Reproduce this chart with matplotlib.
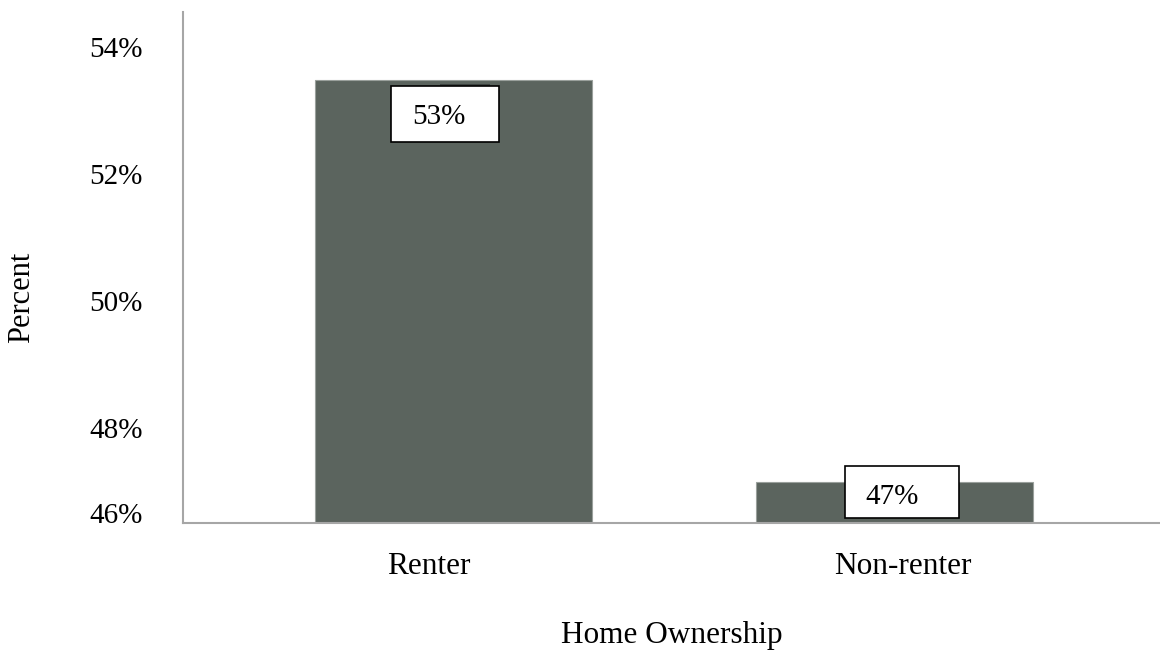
import matplotlib.pyplot as plt
from matplotlib.patches import Rectangle
from matplotlib.transforms import ScaledTranslation

plt.rcParams['font.family'] = ['Liberation Serif', 'DejaVu Serif']

categories = ['Renter', 'Non-renter']
percent = [53.48, 47.15]
tick_vals = [46.65, 48, 50, 52, 54]
tick_labels = ['46%', '48%', '50%', '52%', '54%']

bar_color = '#5b645e'
spine_color = '#a6a6a6'

fig = plt.figure(figsize=(11.6, 6.51), dpi=100)
ax = fig.add_axes([183 / 1160, 1 - 523 / 651, 1 - 183 / 1160, (523 - 12) / 651])

x = list(range(len(categories)))
ax.bar(x, percent, width=0.628, color=bar_color, edgecolor='#9aa09c', linewidth=0.8, zorder=2)

ax.set_xlim(-0.613, 1.602)
ax.set_ylim(46.5, 54.55)
ax.set_yticks(tick_vals)
ax.set_yticklabels(tick_labels, fontsize=21)
ax.set_xticks(x)
ax.set_xticklabels(categories, fontsize=22.5)
ax.tick_params(axis='y', length=0, pad=29)
ax.tick_params(axis='x', length=0, pad=21)

# category labels sit a little off the bar centres
for lbl, dx in zip(ax.get_xticklabels(), [-0.25, 0.08]):
    lbl.set_transform(lbl.get_transform() + ScaledTranslation(dx, 0, fig.dpi_scale_trans))

for side in ['top', 'right']:
    ax.spines[side].set_visible(False)
for side in ['left', 'bottom']:
    ax.spines[side].set_color(spine_color)
    ax.spines[side].set_linewidth(1.5)

ax.set_xlabel('Home Ownership', fontsize=22.5, labelpad=29)
fig.text(22 / 1160, 1 - 297 / 651, 'Percent', rotation=90, fontsize=22,
         ha='center', va='center')

# label boxes, offsets in inches from each bar's top-centre
box_offsets = [(-0.625, -0.62, 1.08, 0.56), (-0.495, -0.363, 1.14, 0.52)]
text_offsets = [(-0.145, -0.37), (-0.025, -0.153)]

for xi, val, box, toff in zip(x, percent, box_offsets, text_offsets):
    anchor = ScaledTranslation(xi, val, ax.transData)
    trans = fig.dpi_scale_trans + anchor
    ax.add_patch(Rectangle((box[0], box[1]), box[2], box[3], transform=trans,
                           facecolor='white', edgecolor='black', linewidth=1.2,
                           zorder=3, clip_on=False))
    ax.text(toff[0], toff[1], '{:.0f}%'.format(val), transform=trans,
            ha='center', va='center', fontsize=21, zorder=4)

# thin dark strip peeking above the first label box
strip_trans = fig.dpi_scale_trans + ScaledTranslation(x[0], percent[0], ax.transData)
ax.add_patch(Rectangle((-0.135, -0.065), 0.5, 0.025, transform=strip_trans,
                       facecolor='#3d4340', edgecolor='none', zorder=2.5, clip_on=False))

fig.savefig('out.png', dpi=100)
